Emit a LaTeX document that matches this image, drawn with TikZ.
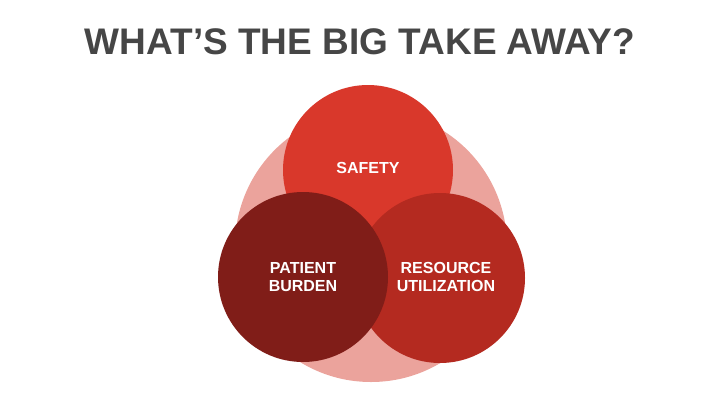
\documentclass[tikz,border=0pt]{standalone}
\usepackage{fontspec}
\setmainfont{Liberation Sans}
\definecolor{titlegray}{HTML}{464646}
\definecolor{palered}{HTML}{EBA39C}
\definecolor{safetyred}{HTML}{D9382B}
\definecolor{resred}{HTML}{B42A20}
\definecolor{patred}{HTML}{801D18}
\begin{document}
\begin{tikzpicture}[x=1pt,y=-1pt,
  disc/.style={circle,inner sep=0pt,minimum size=170pt},
  lbl/.style={text=white,font=\fontsize{16}{18}\selectfont\bfseries,align=center}]
\useasboundingbox (0,0) rectangle (720,405);
\node[font=\fontsize{37}{40}\selectfont\bfseries,text=titlegray] (title) at (360,42) {WHAT’S THE BIG TAKE AWAY?};
\node[circle,inner sep=0pt,minimum size=272pt,fill=palered] (pale) at (371,246) {};
\node[disc,fill=safetyred] (safety) at (368,170) {};
\node[disc,fill=resred] (resource) at (440,278) {};
\node[disc,fill=patred] (patient) at (303,277) {};
\node[lbl] (safetyl) at (368,168) {SAFETY};
\node[lbl] (patientl) at (303,277) {PATIENT\\BURDEN};
\node[lbl] (resourcel) at (446,277) {RESOURCE\\UTILIZATION};
\end{tikzpicture}
\end{document}
